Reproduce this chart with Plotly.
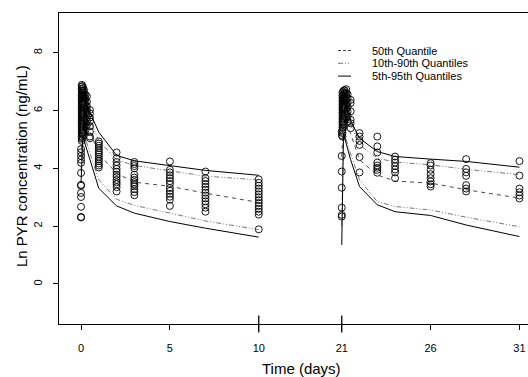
import plotly.graph_objects as go

# ---------------- data (ln PYR concentration, ng/mL) ----------------
# observed concentrations, first dosing period
obs1_times = [0.0, 0.04, 0.08, 0.125, 0.17, 0.25, 0.33, 0.5, 1, 2, 3, 5, 7, 10]
obs1_values = [
    [4.67, 4.55, 4.43, 4.30, 4.19, 3.84, 3.43, 3.40, 3.15, 3.01, 2.67, 2.32, 2.30],
    [6.89, 6.82, 6.75, 6.68, 6.60, 6.52, 6.45, 6.38, 6.30, 6.22, 6.15, 6.08, 6.00, 5.92,
     5.85, 5.78, 5.70, 5.62, 5.55, 5.48, 5.40, 5.32, 5.25, 5.18, 5.10, 5.02, 4.95],
    [6.85, 6.70, 6.55, 6.45, 6.30, 6.20, 6.05, 5.95, 5.85, 5.70, 5.60, 5.45, 5.30, 5.20, 5.05],
    [6.78, 6.62, 6.50, 6.36, 6.25, 6.10, 6.00, 5.90, 5.75, 5.65, 5.50, 5.35, 5.20],
    [6.70, 6.55, 6.42, 6.30, 6.15, 6.05, 5.92, 5.80, 5.66, 5.52, 5.40, 5.25],
    [6.55, 6.42, 6.30, 6.16, 6.02, 5.90, 5.80, 5.70, 5.56, 5.45, 5.32],
    [6.49, 6.30, 6.15, 6.02, 5.90, 5.76, 5.62, 5.50],
    [6.02, 5.90, 5.76, 5.62, 5.46, 5.27, 5.10, 5.04],
    [4.93, 4.86, 4.78, 4.70, 4.62, 4.55, 4.48, 4.40, 4.32, 4.25, 4.17, 4.10, 4.03],
    [4.55, 4.35, 4.22, 4.10, 3.98, 3.88, 3.78, 3.70, 3.60, 3.52, 3.45, 3.35, 3.20],
    [4.22, 4.15, 4.08, 4.00, 3.78, 3.68, 3.60, 3.52, 3.45, 3.38, 3.28, 3.18, 3.07],
    [4.24, 3.95, 3.86, 3.76, 3.66, 3.56, 3.46, 3.32, 3.22, 3.12, 3.02, 2.92, 2.70],
    [3.89, 3.66, 3.56, 3.46, 3.36, 3.26, 3.16, 3.06, 2.96, 2.86, 2.76, 2.64, 2.50],
    [3.62, 3.50, 3.40, 3.30, 3.20, 3.10, 3.00, 2.90, 2.80, 2.70, 2.60, 2.50, 2.40, 1.89],
]

# observed concentrations, second dosing period
obs2_times = [21.0, 21.04, 21.08, 21.125, 21.17, 21.25, 21.33, 21.5, 22, 23, 24, 26, 28, 31]
obs2_values = [
    [5.27, 5.15, 4.43, 3.89, 3.33, 2.64, 2.39, 2.33],
    [6.62, 6.52, 6.42, 6.32, 6.22, 6.12, 6.02, 5.92, 5.82, 5.72, 5.62, 5.52, 5.42, 5.32, 5.22, 5.10],
    [6.66, 6.52, 6.40, 6.30, 6.20, 6.10, 6.00, 5.90, 5.80, 5.70, 5.60, 5.50, 5.40],
    [6.70, 6.56, 6.45, 6.35, 6.25, 6.15, 6.05, 5.95, 5.85, 5.70, 5.55],
    [6.70, 6.60, 6.46, 6.36, 6.22, 6.10, 6.00, 5.86, 5.70],
    [6.74, 6.60, 6.50, 6.36, 6.20, 6.05, 5.90, 5.76],
    [6.56, 6.42, 6.28, 6.12, 5.96, 5.80, 5.62],
    [6.37, 6.26, 5.97, 5.68, 5.56, 5.39],
    [5.22, 5.10, 4.95, 4.81, 4.39, 3.86],
    [5.10, 4.76, 4.55, 4.20, 4.10, 4.02, 3.95, 3.85],
    [4.41, 4.30, 4.20, 4.08, 3.96, 3.86, 3.66],
    [4.18, 4.10, 3.95, 3.80, 3.66, 3.55, 3.45, 3.37],
    [4.32, 3.98, 3.86, 3.74, 3.42, 3.30, 3.20],
    [4.25, 3.75, 3.30, 3.17, 3.06, 2.96],
]

# simulated quantiles, first period
q_times1 = [0, 0.1, 1, 2, 3, 5, 7, 10]
q95_1 = [5.20, 6.50, 5.25, 4.45, 4.26, 4.10, 3.93, 3.76]
q90_1 = [4.90, 6.30, 4.95, 4.30, 4.10, 3.92, 3.73, 3.60]
q50_1 = [4.40, 5.90, 4.50, 3.83, 3.52, 3.38, 3.14, 2.82]
q10_1 = [3.90, 5.30, 3.60, 2.93, 2.72, 2.45, 2.18, 1.88]
q05_1 = [3.50, 5.10, 3.31, 2.70, 2.45, 2.16, 1.93, 1.62]

# simulated quantiles, second period
q_times2 = [21, 21.1, 21.5, 22, 23, 24, 26, 28, 31]
q95_2 = [5.40, 6.40, 5.65, 5.04, 4.58, 4.41, 4.32, 4.24, 4.04]
q90_2 = [5.10, 6.20, 5.50, 4.81, 4.35, 4.22, 4.12, 3.97, 3.78]
q50_2 = [4.40, 5.80, 5.20, 4.29, 3.77, 3.56, 3.49, 3.26, 2.97]
q10_2 = [2.00, 5.30, 4.50, 3.60, 2.85, 2.68, 2.56, 2.31, 1.98]
q05_2 = [1.35, 5.20, 4.30, 3.37, 2.74, 2.50, 2.37, 2.04, 1.64]

x_tick_days = [0, 5, 10, 21, 26, 31]
y_ticks = [0, 2, 4, 6, 8]
legend_labels = ["50th Quantile", "10th-90th Quantiles", "5th-95th Quantiles"]

# ---------------- broken time axis (10 -> 21 compressed) ----------------
BREAK_START, BREAK_END, BREAK_WIDTH = 10, 21, 4.67


def xt(t):
    return t if t <= BREAK_START else t - BREAK_END + BREAK_START + BREAK_WIDTH


W, H = 528, 377
ML, MR, MT, MB = 59, 0, 13, 53
PW, PH = W - ML - MR, H - MT - MB


def px(xp):
    return (xp - ML) / PW


def py(yp):
    return (H - MB - yp) / PH


FONT = "Liberation Sans, Arial, Helvetica, sans-serif"
fig = go.Figure()

# observed points
for times, values in ((obs1_times, obs1_values), (obs2_times, obs2_values)):
    xs, ys = [], []
    for t, vals in zip(times, values):
        for v in vals:
            xs.append(xt(t))
            ys.append(v)
    fig.add_trace(go.Scatter(
        x=xs, y=ys, mode="markers", showlegend=False, hoverinfo="skip",
        marker=dict(symbol="circle-open", size=7, color="black", line=dict(width=0.9, color="black")),
    ))

DASH_MED = "4px,4px"
DASH_DD = "5px,2px,1px,2px,1px,2px"
line_styles = {
    "q50": dict(color="#333333", width=0.9, dash=DASH_MED),
    "q1090": dict(color="#555555", width=0.8, dash=DASH_DD),
    "q0595": dict(color="black", width=1.0, dash="solid"),
}

for times, series in (
    (q_times1, (("q0595", q95_1), ("q1090", q90_1), ("q50", q50_1), ("q1090", q10_1), ("q0595", q05_1))),
    (q_times2, (("q0595", q95_2), ("q1090", q90_2), ("q50", q50_2), ("q1090", q10_2), ("q0595", q05_2))),
):
    for key, vals in series:
        fig.add_trace(go.Scatter(
            x=[xt(t) for t in times], y=vals, mode="lines", showlegend=False,
            hoverinfo="skip", line=line_styles[key],
        ))

shapes = []
# axis-break marks
for t in (BREAK_START, BREAK_END):
    shapes.append(dict(type="line", xref="x", yref="paper", x0=xt(t), x1=xt(t),
                       y0=-0.027, y1=0.027, line=dict(color="black", width=1.3)))

# legend (drawn in the plot's top right)
legend_rows_y = [50.5, 63.3, 76.1]
legend_keys = ["q50", "q1090", "q0595"]
annotations = []
for lab, key, yy in zip(legend_labels, legend_keys, legend_rows_y):
    st = dict(line_styles[key])
    if key == "q50":
        st["dash"] = "3px,2px"
    shapes.append(dict(type="line", xref="paper", yref="paper", x0=px(338), x1=px(351),
                       y0=py(yy), y1=py(yy), line=st))
    annotations.append(dict(text=lab, xref="paper", yref="paper", x=px(370), y=py(yy),
                            xanchor="left", yanchor="middle", showarrow=False,
                            font=dict(family=FONT, size=11, color="black")))

annotations.append(dict(text="Time (days)", xref="paper", yref="paper", x=px(301), y=py(368),
                        xanchor="center", yanchor="middle", showarrow=False,
                        font=dict(family=FONT, size=15, color="black")))
annotations.append(dict(text="Ln PYR concentration (ng/mL)", xref="paper", yref="paper",
                        x=px(21.5), y=py(166.5), textangle=-90, xanchor="center",
                        yanchor="middle", showarrow=False,
                        font=dict(family=FONT, size=15, color="black")))

fig.update_layout(
    width=W, height=H, margin=dict(l=ML, r=MR, t=MT, b=MB),
    paper_bgcolor="white", plot_bgcolor="white",
    font=dict(family=FONT, size=11, color="black"),
    shapes=shapes, annotations=annotations, showlegend=False,
    xaxis=dict(range=[-1.24, 25.15], tickvals=[xt(t) for t in x_tick_days],
               ticktext=[str(t) for t in x_tick_days], ticks="outside", ticklen=5,
               tickwidth=1, tickcolor="black", showgrid=False, zeroline=False,
               showline=True, mirror=True, linecolor="black", linewidth=1.3,
               ticklabelstandoff=9, tickfont=dict(size=11), automargin=False),
    yaxis=dict(range=[-1.385, 9.375], tickvals=y_ticks, ticktext=[str(v) for v in y_ticks],
               ticks="outside", ticklen=5, tickwidth=1, tickcolor="black", tickangle=-90,
               showgrid=False, zeroline=False, showline=True, mirror=False,
               linecolor="black", linewidth=1.3, ticklabelstandoff=6,
               tickfont=dict(size=11), automargin=False),
)

fig.write_html(
    "out.html",
    config={"displayModeBar": False},
    post_script="document.body.style.margin='0';document.body.style.overflow='hidden';",
)
